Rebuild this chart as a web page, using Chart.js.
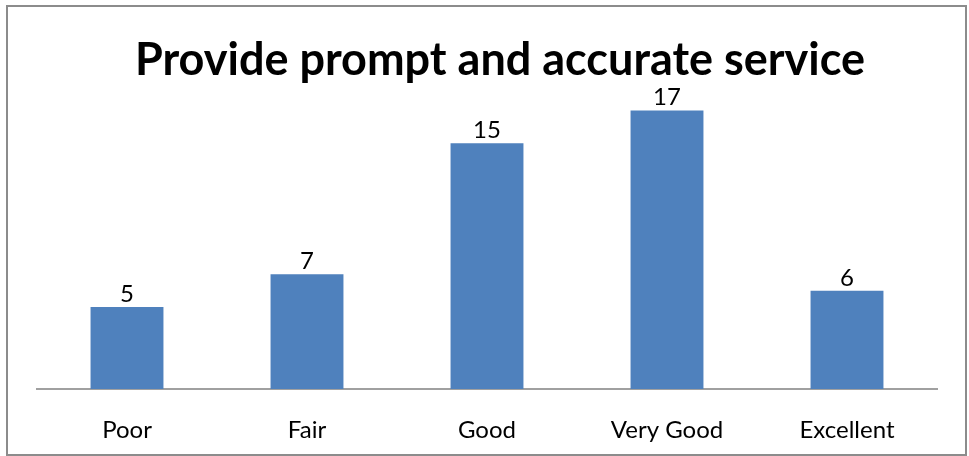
<!DOCTYPE html>
<html>
<head>
<meta charset="utf-8">
<script src="https://cdn.jsdelivr.net/npm/chart.js@4.4.1/dist/chart.umd.min.js"></script>
<style>
  body { margin: 0; background: #fff; }
  #wrap { width: 969px; height: 456px; }
</style>
</head>
<body>
<div id="wrap"><canvas id="serviceChart" width="969" height="456"></canvas></div>
<script>
const chartTitle = "Provide prompt and accurate service";
const ratings = ["Poor", "Fair", "Good", "Very Good", "Excellent"];
const responses = [5, 7, 15, 17, 6];

const FONT = "Lato, 'Open Sans', sans-serif";

// frame, title and the numbers above each bar
const decorations = {
    id: "decorations",
    beforeDraw(chart) {
        const c = chart.ctx;
        c.save();
        c.fillStyle = "#fff";
        c.fillRect(0, 0, chart.width, chart.height);
        c.strokeStyle = "#8c8c8c";
        c.lineWidth = 2;
        c.strokeRect(7, 6, 959, 449);
        c.restore();
    },
    afterDatasetsDraw(chart) {
        const c = chart.ctx;
        c.save();
        c.fillStyle = "#000";
        c.textAlign = "center";
        c.textBaseline = "alphabetic";
        c.font = "bold 45px " + FONT;
        c.fillText(chartTitle, 500, 75);

        c.font = "24px " + FONT;
        chart.getDatasetMeta(0).data.forEach((bar, i) => {
            c.fillText(responses[i], bar.x, bar.y - 5);
        });
        c.restore();
    }
};

new Chart(document.getElementById("serviceChart"), {
    type: "bar",
    data: {
        labels: ratings,
        datasets: [{
            data: responses,
            backgroundColor: "#4f81bd",
            categoryPercentage: 1,
            barPercentage: 0.405
        }]
    },
    options: {
        responsive: false,
        animation: false,
        layout: {
            padding: { left: 37, right: 32, top: 94, bottom: 0 }
        },
        plugins: {
            legend: { display: false },
            tooltip: { enabled: false }
        },
        scales: {
            x: {
                grid: { display: false, drawTicks: false },
                border: { display: true, color: "#a0a0a0", width: 2 },
                ticks: {
                    color: "#000",
                    padding: 27,
                    font: { family: FONT, size: 24 }
                },
                afterFit(scale) { scale.height = 67; }
            },
            y: {
                display: false,
                min: 0,
                max: 18
            }
        }
    },
    plugins: [decorations]
});
</script>
</body>
</html>
